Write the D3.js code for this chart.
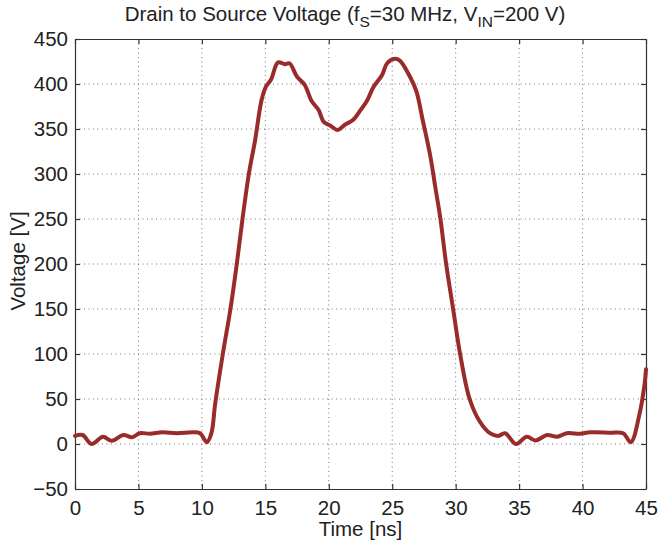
<!DOCTYPE html>
<html>
<head>
<meta charset="utf-8">
<script src="https://cdn.jsdelivr.net/npm/d3@7"></script>
<style>
  body { margin: 0; background: #fff; }
  svg text { font-family: "Liberation Sans", Arial, sans-serif; fill: #222; }
</style>
</head>
<body>
<svg id="chart" width="660" height="546"></svg>
<script>
// waveform samples: time [ns] and voltage [V]
var times = [0, 0.6, 1.3, 2.2, 2.9, 3.8, 4.5, 5.1, 5.9, 6.9, 8.0, 9.3, 9.85, 10.4,
  10.75, 11.05, 11.65, 12.25, 12.75, 13.2, 13.7, 14.2, 14.7, 15.05, 15.45,
  16.0, 16.55, 16.9, 17.5, 18.1, 18.65, 19.2, 19.6, 20.1, 20.7, 21.3, 21.9, 22.5, 23.0,
  23.5, 24.2, 24.6, 25.2, 25.6, 26.4, 26.9, 27.4, 28.0, 28.4, 28.8, 29.25, 29.8,
  30.35, 31.1, 31.9, 32.7, 33.35, 33.9, 34.75, 35.6, 36.3, 37.2, 38.0, 38.75, 39.8,
  40.6, 42.2, 43.2, 43.8, 44.5, 44.9, 45]
var volts = [9, 10, 0, 8, 3.5, 10, 7.5, 12, 11.4, 13, 12, 13, 12, 2,
  12, 45, 100, 150, 200, 250, 300, 338, 382, 397, 405,
  424, 422, 423, 408, 399, 381, 371, 358, 354, 349, 355, 360, 371, 381,
  396, 410, 423, 428, 426, 408, 392, 360, 320, 285, 250, 200, 150,
  100, 50, 25, 12, 9, 12, 0, 8, 4, 10, 8, 12, 11.4,
  13, 12.5, 12, 2, 34, 68, 83]

var xTicks = [0, 5, 10, 15, 20, 25, 30, 35, 40, 45]
var yTicks = [-50, 0, 50, 100, 150, 200, 250, 300, 350, 400, 450]

var svg = d3.select("#chart")
var plotLeft = 75, plotRight = 646, plotTop = 39, plotBottom = 489
var tickLen = 5
var fontSize = 20.5

var x = d3.scaleLinear().domain([0, 45]).range([plotLeft, plotRight])
var y = d3.scaleLinear().domain([-50, 450]).range([plotBottom, plotTop])

// dotted grid
var grid = svg.append("g").attr("class", "grid")
grid.selectAll("line.gx")
    .data(xTicks.slice(1, -1))
    .enter().append("line")
    .attr("x1", function(d) { return x(d) })
    .attr("x2", function(d) { return x(d) })
    .attr("y1", plotTop).attr("y2", plotBottom)
grid.selectAll("line.gy")
    .data(yTicks.slice(1, -1))
    .enter().append("line")
    .attr("y1", function(d) { return y(d) })
    .attr("y2", function(d) { return y(d) })
    .attr("x1", plotLeft).attr("x2", plotRight)
grid.selectAll("line")
    .attr("stroke", "#777")
    .attr("stroke-width", 1)
    .attr("stroke-dasharray", "1,3.5")

// axes with inward ticks, MATLAB style
var axisColor = "#333"
var fmt = function(d) { return d < 0 ? "\u2212" + Math.abs(d) : d }
var xAxis = d3.axisBottom(x).tickValues(xTicks).tickSizeInner(-tickLen).tickSizeOuter(0).tickPadding(11).tickFormat(fmt)
var yAxis = d3.axisLeft(y).tickValues(yTicks).tickSizeInner(-tickLen).tickSizeOuter(0).tickPadding(7).tickFormat(fmt)
var xTop = d3.axisTop(x).tickValues(xTicks).tickSizeInner(-tickLen).tickSizeOuter(0).tickFormat("")
var yRight = d3.axisRight(y).tickValues(yTicks).tickSizeInner(-tickLen).tickSizeOuter(0).tickFormat("")

svg.append("g").attr("transform", "translate(0," + plotBottom + ")").call(xAxis)
svg.append("g").attr("transform", "translate(" + plotLeft + ",0)").call(yAxis)
svg.append("g").attr("transform", "translate(0," + plotTop + ")").call(xTop)
svg.append("g").attr("transform", "translate(" + plotRight + ",0)").call(yRight)

svg.selectAll(".domain, .tick line").attr("stroke", axisColor).attr("stroke-width", 1.2)
svg.selectAll(".tick text")
    .style("font-size", fontSize + "px")
    .attr("fill", "#222")

// waveform
var wave = d3.line()
    .x(function(d, i) { return x(times[i]) })
    .y(function(d) { return y(d) })
    .curve(d3.curveCatmullRom.alpha(0.5))

svg.append("path")
    .datum(volts)
    .attr("d", wave)
    .attr("fill", "none")
    .attr("stroke", "#9a2b2b")
    .attr("stroke-width", 4)
    .attr("stroke-linejoin", "round")
    .attr("stroke-linecap", "round")

// title with subscripts
var title = svg.append("text")
    .attr("x", 345).attr("y", 21)
    .attr("text-anchor", "middle")
    .style("font-size", fontSize + "px")
title.append("tspan").text("Drain to Source Voltage (f")
title.append("tspan").text("S").attr("dy", 6).style("font-size", "15.5px")
title.append("tspan").text("=30 MHz, V").attr("dy", -6)
title.append("tspan").text("IN").attr("dy", 6).style("font-size", "15.5px")
title.append("tspan").text("=200 V)").attr("dy", -6)

svg.append("text")
    .attr("x", (plotLeft + plotRight) / 2).attr("y", 536)
    .attr("text-anchor", "middle")
    .style("font-size", fontSize + "px")
    .text("Time [ns]")

svg.append("text")
    .attr("transform", "translate(25,261) rotate(-90)")
    .attr("text-anchor", "middle")
    .style("font-size", fontSize + "px")
    .text("Voltage [V]")
</script>
</body>
</html>
